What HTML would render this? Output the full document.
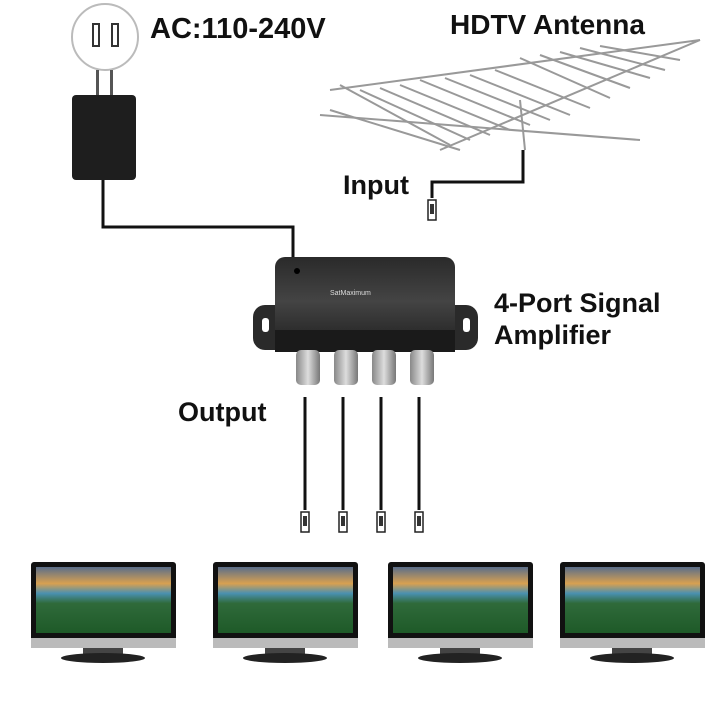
<!DOCTYPE html>
<html><head><style>
body{margin:0;width:720px;height:720px;background:#fff;overflow:hidden;font-family:"Liberation Sans",sans-serif}
.t{position:absolute;font-weight:bold;color:#111;font-size:28px;white-space:nowrap}
</style></head><body>
<svg width="720" height="720" style="position:absolute;left:0;top:0">
<defs>
<linearGradient id="scr" x1="0" y1="0" x2="0" y2="1">
<stop offset="0" stop-color="#5a6e8a"/><stop offset="0.25" stop-color="#d8a050"/><stop offset="0.4" stop-color="#4a90b0"/><stop offset="0.55" stop-color="#2f6a3a"/><stop offset="1" stop-color="#1e5a28"/></linearGradient>
<linearGradient id="box" x1="0" y1="0" x2="0" y2="1"><stop offset="0" stop-color="#2a2a2a"/><stop offset="0.5" stop-color="#444"/><stop offset="1" stop-color="#222"/></linearGradient>
<linearGradient id="port" x1="0" y1="0" x2="1" y2="0"><stop offset="0" stop-color="#888"/><stop offset="0.5" stop-color="#ddd"/><stop offset="1" stop-color="#777"/></linearGradient>
<g id="tv">
<rect x="0" y="0" width="145" height="86" rx="3" fill="#111"/>
<rect x="5" y="5" width="135" height="66" fill="url(#scr)"/>
<rect x="0" y="76" width="145" height="10" fill="#bbb"/>
<rect x="52" y="86" width="40" height="6" fill="#444"/>
<ellipse cx="72" cy="96" rx="42" ry="5" fill="#222"/>
</g>
<g id="con"><rect x="-4" y="0" width="8" height="20" fill="#fff" stroke="#222" stroke-width="1.5"/><rect x="-2" y="4" width="4" height="10" fill="#333"/></g>
</defs>
<circle cx="105" cy="37" r="33" fill="#fff" stroke="#bbb" stroke-width="2"/>
<rect x="93" y="24" width="6" height="22" fill="#fff" stroke="#333" stroke-width="2"/>
<rect x="112" y="24" width="6" height="22" fill="#fff" stroke="#333" stroke-width="2"/>
<rect x="96" y="70" width="3" height="25" fill="#555"/><rect x="110" y="70" width="3" height="25" fill="#555"/>
<rect x="72" y="95" width="64" height="85" rx="4" fill="#1e1e1e"/>
<polyline points="103,180 103,227 293,227 293,258" fill="none" stroke="#111" stroke-width="3"/>
<g stroke="#999" stroke-width="2">
<line x1="330" y1="90" x2="700" y2="40"/>
<line x1="320" y1="115" x2="640" y2="140"/>
<line x1="440" y1="150" x2="700" y2="40"/>
<line x1="340" y1="85" x2="450" y2="145"/><line x1="330" y1="110" x2="460" y2="150"/>
<line x1="360" y1="90" x2="470" y2="140"/><line x1="380" y1="88" x2="490" y2="135"/>
<line x1="400" y1="85" x2="510" y2="130"/><line x1="420" y1="80" x2="530" y2="125"/>
<line x1="445" y1="78" x2="550" y2="120"/><line x1="470" y1="75" x2="570" y2="115"/>
<line x1="495" y1="70" x2="590" y2="108"/><line x1="520" y1="58" x2="610" y2="98"/>
<line x1="540" y1="55" x2="630" y2="88"/><line x1="560" y1="52" x2="650" y2="78"/>
<line x1="580" y1="48" x2="665" y2="70"/><line x1="600" y1="46" x2="680" y2="60"/>
<line x1="520" y1="100" x2="525" y2="150"/>
</g>
<polyline points="523,150 523,182 432,182 432,198" fill="none" stroke="#111" stroke-width="3"/>
<use href="#con" x="432" y="200"/>
<rect x="253" y="305" width="225" height="45" rx="12" fill="#2a2a2a"/>
<rect x="262" y="318" width="7" height="14" rx="3" fill="#fff"/><rect x="463" y="318" width="7" height="14" rx="3" fill="#fff"/>
<rect x="275" y="257" width="180" height="88" rx="10" fill="url(#box)"/>
<rect x="275" y="330" width="180" height="22" fill="#1a1a1a"/>
<circle cx="297" cy="271" r="3" fill="#000"/>
<text x="330" y="295" font-size="7" fill="#ddd" font-family="Liberation Sans">SatMaximum</text>
<g fill="url(#port)">
<rect x="296" y="350" width="24" height="35" rx="5"/><rect x="334" y="350" width="24" height="35" rx="5"/>
<rect x="372" y="350" width="24" height="35" rx="5"/><rect x="410" y="350" width="24" height="35" rx="5"/>
</g>
<g stroke="#111" stroke-width="3">
<line x1="305" y1="397" x2="305" y2="510"/><line x1="343" y1="397" x2="343" y2="510"/>
<line x1="381" y1="397" x2="381" y2="510"/><line x1="419" y1="397" x2="419" y2="510"/>
</g>
<use href="#con" x="305" y="512"/><use href="#con" x="343" y="512"/><use href="#con" x="381" y="512"/><use href="#con" x="419" y="512"/>
<use href="#tv" x="31" y="562"/><use href="#tv" x="213" y="562"/><use href="#tv" x="388" y="562"/><use href="#tv" x="560" y="562"/>
</svg>
<div class="t" style="left:150px;top:13px;font-size:29px">AC:110-240V</div>
<div class="t" style="left:450px;top:9px;font-size:28px">HDTV Antenna</div>
<div class="t" style="left:343px;top:170px;font-size:27px">Input</div>
<div class="t" style="left:494px;top:287px;line-height:32px;font-size:27px">4-Port Signal<br>Amplifier</div>
<div class="t" style="left:178px;top:397px;font-size:27px">Output</div>
</body></html>
